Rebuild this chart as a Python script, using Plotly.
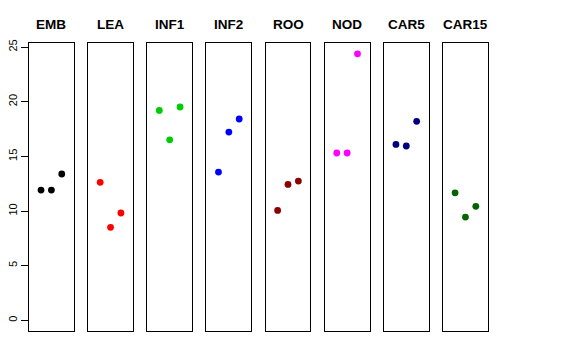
import plotly.graph_objects as go

tissues = ["EMB", "LEA", "INF1", "INF2", "ROO", "NOD", "CAR5", "CAR15"]
colors = ["#000000", "#FF0000", "#00CD00", "#0000FF", "#8B0000", "#FF00FF", "#000080", "#006400"]
rep_x = [1, 2, 3]
values = {
    "EMB":   [11.92, 11.92, 13.39],
    "LEA":   [12.63, 8.51, 9.82],
    "INF1":  [19.21, 16.52, 19.52],
    "INF2":  [13.57, 17.23, 18.42],
    "ROO":   [10.06, 12.44, 12.74],
    "NOD":   [15.31, 15.31, 24.39],
    "CAR5":  [16.10, 15.95, 18.21],
    "CAR15": [11.67, 9.45, 10.43],
}
y_ticks = [0, 5, 10, 15, 20, 25]

W, H = 576, 360
panel_left0 = 29.0
panel_w = 44.8
panel_step = 59.15
top_px, bot_px = 43.0, 331.0

fig = go.Figure()
font_family = "Liberation Sans, Arial, sans-serif"

for i, (name, col) in enumerate(zip(tissues, colors)):
    n = i + 1
    xa = "x" if n == 1 else f"x{n}"
    ya = "y" if n == 1 else f"y{n}"
    fig.add_trace(go.Scatter(
        x=rep_x, y=values[name], mode="markers",
        marker=dict(color=col, size=6.8, line=dict(width=0)),
        xaxis=xa, yaxis=ya, showlegend=False, hoverinfo="y"))
    l = panel_left0 + i * panel_step
    r = l + panel_w
    xkey = "xaxis" if n == 1 else f"xaxis{n}"
    ykey = "yaxis" if n == 1 else f"yaxis{n}"
    fig.layout[xkey] = dict(
        domain=[l / W, r / W], range=[-0.16, 4.16],
        showline=True, mirror=True, linecolor="black", linewidth=1,
        showgrid=False, zeroline=False, showticklabels=False, ticks="",
        anchor=ya, fixedrange=True, automargin=False)
    ydict = dict(
        domain=[1 - bot_px / H, 1 - top_px / H], range=[-0.976, 25.376],
        showline=True, mirror=True, linecolor="black", linewidth=1,
        showgrid=False, zeroline=False, anchor=xa, fixedrange=True,
        automargin=False)
    if n == 1:
        ydict.update(ticks="outside", ticklen=7, tickwidth=1, tickcolor="black",
                     tickvals=y_ticks, ticktext=[str(v) for v in y_ticks],
                     tickangle=-90, showticklabels=True,
                     tickfont=dict(family=font_family, size=11, color="black"))
    else:
        ydict.update(showticklabels=False, ticks="")
    fig.layout[ykey] = ydict
    fig.add_annotation(
        x=(l + r) / 2 / W, y=1 - 34 / H, xref="paper", yref="paper",
        text=f"<b>{name}</b>", showarrow=False, xanchor="center", yanchor="bottom",
        font=dict(family=font_family, size=13.5, color="black"))

fig.update_layout(
    width=W, height=H, margin=dict(l=0, r=0, t=0, b=0, autoexpand=False),
    paper_bgcolor="white", plot_bgcolor="white",
    font=dict(family=font_family, color="black"))

fig.write_html("out.html", config={"displayModeBar": False},
               post_script="document.body.style.margin='0';document.body.style.overflow='hidden';")
